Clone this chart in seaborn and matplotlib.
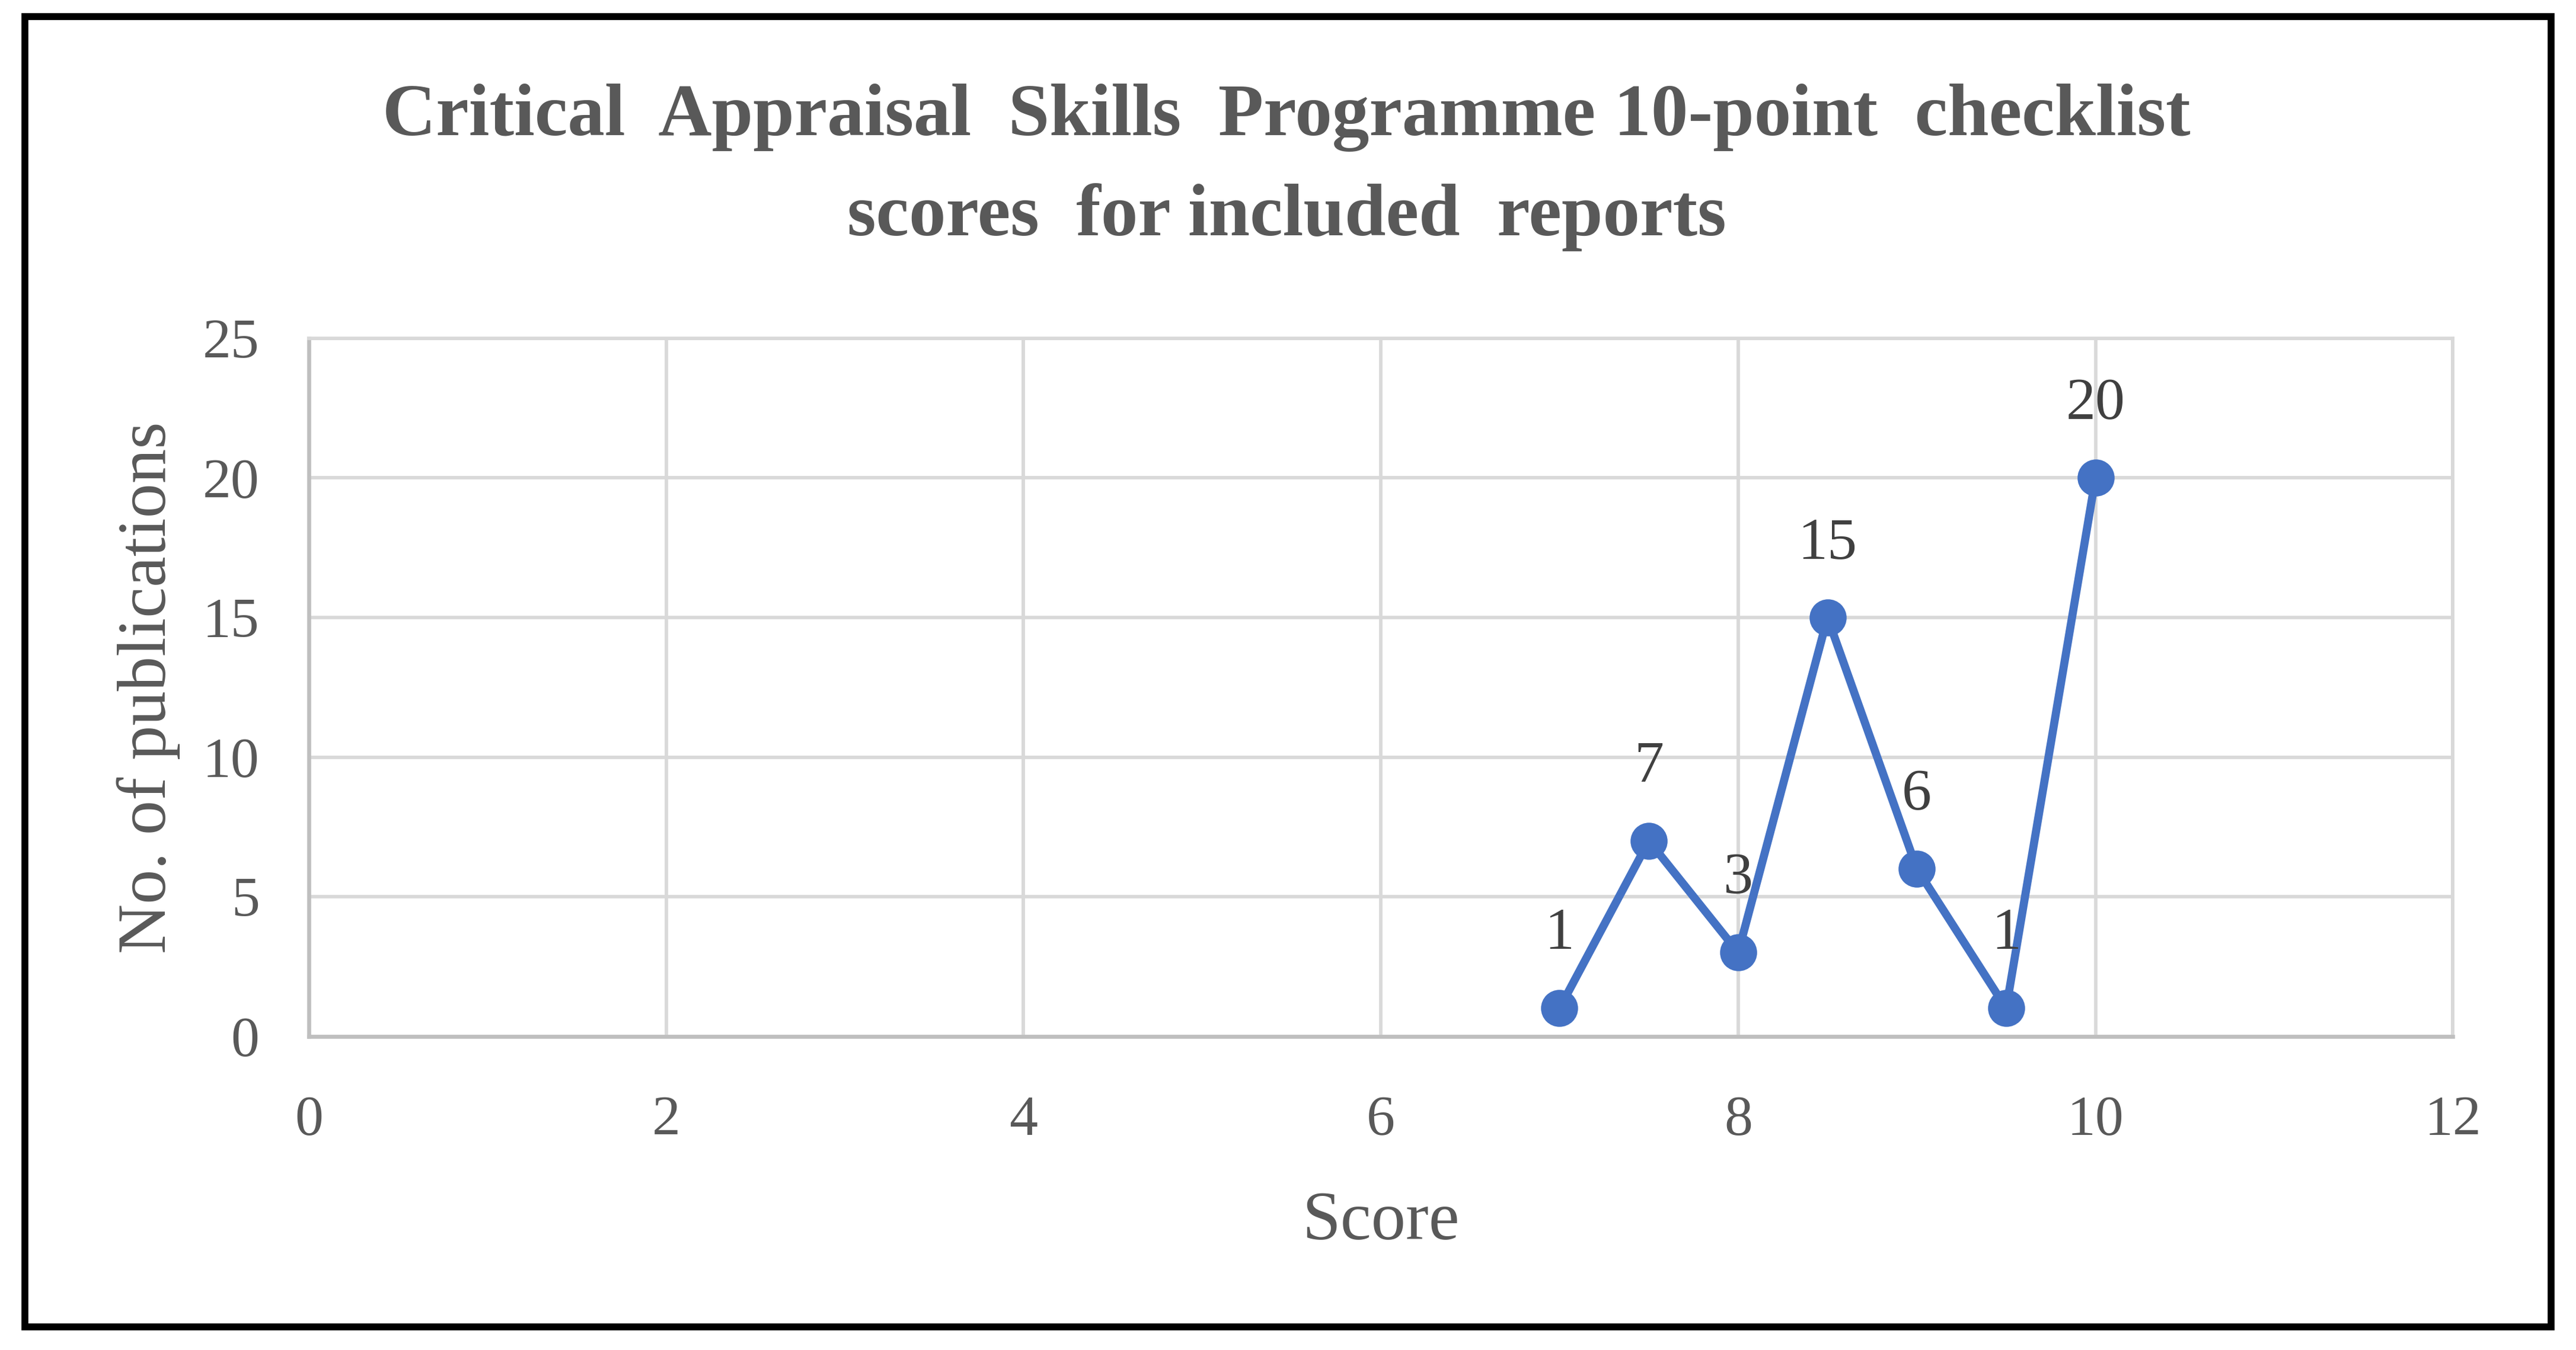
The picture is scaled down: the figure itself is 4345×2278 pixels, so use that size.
import matplotlib
matplotlib.use("Agg")
import matplotlib.pyplot as plt
import seaborn as sns
import pandas as pd
from matplotlib.patches import Rectangle

scores = [7, 7.5, 8, 8.5, 9, 9.5, 10]
publications = [1, 7, 3, 15, 6, 1, 20]
x_ticks = [0, 2, 4, 6, 8, 10, 12]
y_ticks = [0, 5, 10, 15, 20, 25]
title = "Critical  Appraisal  Skills  Programme 10-point  checklist\nscores  for included  reports"
x_label = "Score"
y_label = "No. of publications"

df = pd.DataFrame({"Score": scores, "Publications": publications})

sns.set_theme(style="white")
plt.rcParams['font.family'] = ['Liberation Serif', 'DejaVu Serif']

fig = plt.figure(figsize=(4345 / 300, 2278 / 300), dpi=300)
ax = fig.add_axes([0.1199, 0.2324, 0.9522 - 0.1199, 0.7494 - 0.2324])

line_color = "#4472C4"
sns.lineplot(data=df, x="Score", y="Publications", ax=ax, color=line_color,
             linewidth=3.3, marker="o", markersize=15, markeredgewidth=0,
             zorder=3)

ax.set_xlim(0, 12)
ax.set_ylim(0, 25)
ax.set_xticks(x_ticks)
ax.set_yticks(y_ticks)
ax.grid(True, color="#D9D9D9", linewidth=1.4)
ax.set_axisbelow(True)

for side in ["top", "right"]:
    ax.spines[side].set_color("#D9D9D9")
    ax.spines[side].set_linewidth(1.4)
for side in ["left", "bottom"]:
    ax.spines[side].set_color("#BFBFBF")
    ax.spines[side].set_linewidth(1.6)

ax.tick_params(axis="x", length=0, labelsize=23, colors="#595959", pad=24)
ax.tick_params(axis="y", length=0, labelsize=23, colors="#595959", pad=20)
ax.set_xlabel(x_label, fontsize=28, color="#595959", labelpad=18)
ax.set_ylabel(y_label, fontsize=28, color="#595959", labelpad=9)

for xv, yv in zip(scores, publications):
    ax.annotate(str(yv), (xv, yv), xytext=(0, 19), textcoords="offset points",
                ha="center", va="bottom", fontsize=24, color="#404040")

fig.text(0.4994, 0.876, title, ha="center", va="center", fontsize=30,
         fontweight="bold", color="#595959", linespacing=1.6)

fig.patches.append(Rectangle((0.0096, 0.017), 0.9904 - 0.0096, 0.9878 - 0.017,
                             transform=fig.transFigure, fill=False,
                             edgecolor="black", linewidth=2.8))

fig.savefig("out.png", dpi=300)
